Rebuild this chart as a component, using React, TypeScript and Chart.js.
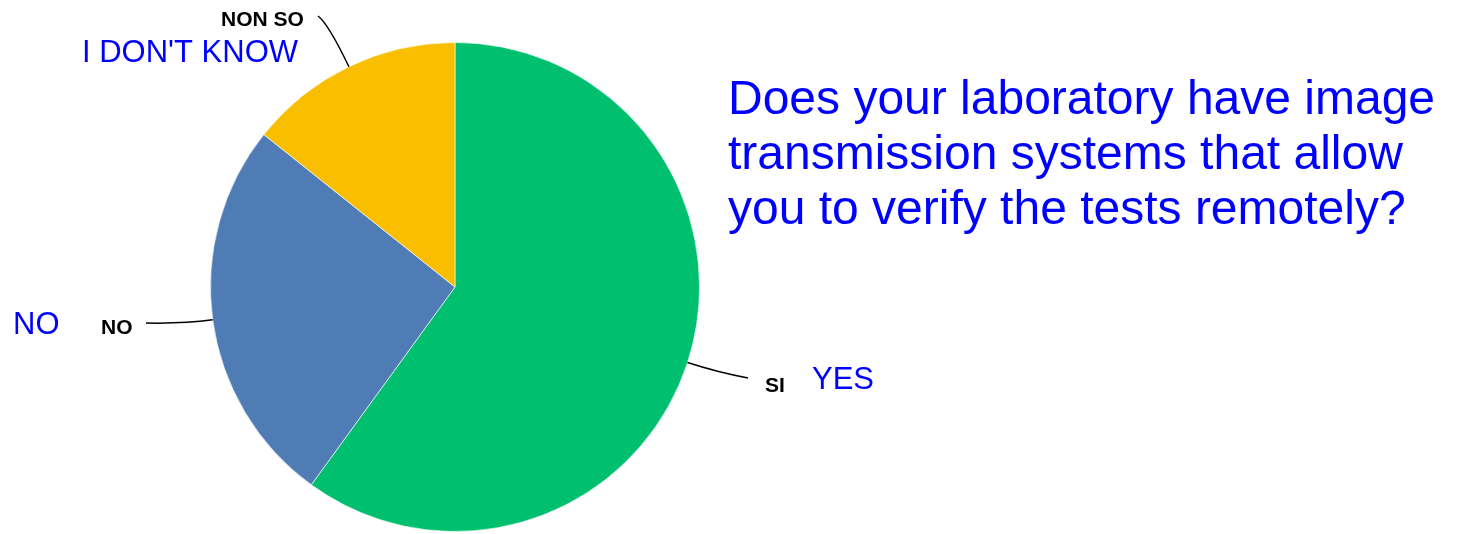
import React, { useEffect, useRef } from "react";
import { Chart, registerables } from "chart.js";

Chart.register(...registerables);

const categories = ["SI", "NO", "NON SO"];
const translations = ["YES", "NO", "I DON'T KNOW"];
const values = [21, 9, 5];
const colors = ["#00BF6F", "#507CB6", "#F9BE00"];
const titleLines = [
  "Does your laboratory have image",
  "transmission systems that allow",
  "you to verify the tests remotely?",
];

const FONT = '"Liberation Sans", Arial, sans-serif';

const labelLayout = [
  { lx: 765, ly: 392, tx: 812, ty: 389, ex: 748, ey: 378, cd: 32 },
  { lx: 101, ly: 334, tx: 13, ty: 334, ex: 146, ey: 323, cd: 30 },
  { lx: 221, ly: 26, tx: 82, ty: 62, ex: 318, ey: 16, cd: 48 },
];

const overlayPlugin = {
  id: "overlay",
  afterDraw(chart: any) {
    const ctx = chart.ctx;
    const meta = chart.getDatasetMeta(0);
    ctx.save();
    meta.data.forEach((arc: any, i: number) => {
      const mid = (arc.startAngle + arc.endAngle) / 2;
      const dx = Math.cos(mid);
      const dy = Math.sin(mid);
      const px = arc.x + arc.outerRadius * dx;
      const py = arc.y + arc.outerRadius * dy;
      const L = labelLayout[i];
      ctx.beginPath();
      ctx.strokeStyle = "#000";
      ctx.lineWidth = 1.5;
      ctx.moveTo(px, py);
      ctx.quadraticCurveTo(px + L.cd * dx, py + L.cd * dy, L.ex, L.ey);
      ctx.stroke();

      ctx.fillStyle = "#000";
      ctx.textBaseline = "alphabetic";
      ctx.textAlign = "left";
      ctx.font = `bold 21px ${FONT}`;
      ctx.fillText(categories[i], L.lx, L.ly);

      ctx.fillStyle = "#0000FF";
      ctx.font = `31px ${FONT}`;
      ctx.fillText(translations[i], L.tx, L.ty);
    });

    ctx.fillStyle = "#0000FF";
    ctx.font = `48px ${FONT}`;
    titleLines.forEach((t, i) => {
      ctx.fillText(t, 728, 114 + i * 55);
    });
    ctx.restore();
  },
};

export default function App() {
  const ref = useRef<HTMLCanvasElement | null>(null);
  useEffect(() => {
    document.body.style.margin = "0";
    if (!ref.current) return;
    const chart = new Chart(ref.current, {
      type: "pie",
      data: {
        labels: categories,
        datasets: [
          {
            data: values,
            backgroundColor: colors,
            borderColor: "rgba(255,255,255,0.6)",
            borderWidth: 1,
          },
        ],
      },
      options: {
        animation: false,
        responsive: false,
        layout: { padding: { left: 210, right: 758, top: 42, bottom: 2 } },
        plugins: {
          legend: { display: false },
          tooltip: { enabled: false },
        },
      },
      plugins: [overlayPlugin],
    });
    return () => chart.destroy();
  }, []);
  return (
    <div style={{ width: 1458, height: 534, background: "#fff" }}>
      <canvas ref={ref} width={1458} height={534} style={{ display: "block" }} />
    </div>
  );
}
